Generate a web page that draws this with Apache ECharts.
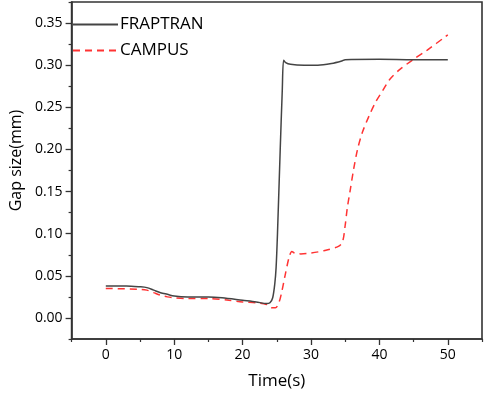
<!DOCTYPE html>
<html><head><meta charset="utf-8">
<script src="https://cdn.jsdelivr.net/npm/echarts@6/dist/echarts.min.js"></script>
<style>html,body{margin:0;padding:0;background:#fff}#c{width:484px;height:395px}</style>
</head><body><div id="c"></div>
<script>
const fraptranTime = [0,3,5,6,7,8,9,10,12,15,17,20,22,23.5,24.0,24.4,24.7,24.9,25.1,25.5,25.8,26.0,26.3,27,29,31,33,34.5,35,40,45,50];
const fraptranGap  = [0.038,0.038,0.037,0.036,0.033,0.030,0.028,0.026,0.025,0.025,0.024,0.021,0.019,0.017,0.018,0.024,0.040,0.060,0.100,0.200,0.270,0.306,0.303,0.301,0.300,0.300,0.302,0.305,0.3065,0.307,0.3065,0.3065];
const campusTime = [0,5,6,7,8,9,10,12,15,18,20,22,23.5,24.2,24.8,25.3,25.7,26.2,26.8,27.2,27.6,28.5,30,32,34,34.6,35.0,35.3,35.7,36.2,36.8,37.5,38.5,39.5,40.5,41.5,43,45,47,50];
const campusGap  = [0.035,0.034,0.033,0.030,0.027,0.025,0.024,0.023,0.023,0.021,0.019,0.018,0.016,0.012,0.012,0.018,0.030,0.050,0.072,0.079,0.077,0.076,0.077,0.080,0.085,0.090,0.110,0.130,0.150,0.175,0.200,0.220,0.240,0.257,0.270,0.283,0.295,0.307,0.318,0.336];
const seriesNames = ['FRAPTRAN','CAMPUS'];
const xTicks = [0,10,20,30,40,50];
const xMinorTicks = [-5,5,15,25,35,45,55];
const yTicks = [0.00,0.05,0.10,0.15,0.20,0.25,0.30,0.35];
const yMinorTicks = [-0.025,0.025,0.075,0.125,0.175,0.225,0.275,0.325,0.375];

const zip = (a,b) => a.map((v,i)=>[v,b[i]]);
const font = '"Open Sans", sans-serif';
const chart = echarts.init(document.getElementById('c'), null, {renderer:'canvas'});
const grid = {left:62, right:2, top:2, bottom:55};
function mkAxis(extra, isMinor) {
  const base = {
    gridIndex:0,
    axisLine:{show:!isMinor, onZero:false, lineStyle:{color:'#333', width:1.6}},
    splitLine:{show:false},
    nameLocation:'middle',
  };
  return Object.assign(base, extra);
}
chart.setOption({
  animation:false,
  backgroundColor:'#fff',
  grid:Object.assign({show:true, borderColor:'#333', borderWidth:1.6}, grid),
  legend:{
    orient:'vertical', left:72, top:16, padding:0, itemWidth:45, itemHeight:14, itemGap:9,
    itemStyle:{opacity:0},
    textStyle:{fontFamily:font, fontSize:17, color:'#000', padding:[0,0,0,-3]},
    data:seriesNames
  },
  xAxis:[
    mkAxis({type:'value', min:-5, max:55, name:'Time(s)', nameGap:34,
      nameTextStyle:{fontFamily:font, fontSize:17, color:'#000'},
      axisLabel:{fontFamily:font, fontSize:14, color:'#000', margin:9, customValues:xTicks, formatter:v=>String(v)},
      axisTick:{show:true, length:6, customValues:xTicks, lineStyle:{color:'#333', width:1.3}}}, false),
    mkAxis({type:'value', min:-5, max:55, position:'bottom',
      axisLabel:{show:false, customValues:xMinorTicks},
      axisTick:{show:true, length:3, customValues:xMinorTicks, lineStyle:{color:'#333', width:1.2}}}, true)
  ],
  yAxis:[
    mkAxis({type:'value', min:-0.025, max:0.375, name:'Gap size(mm)', nameGap:44,
      nameTextStyle:{fontFamily:font, fontSize:16, color:'#000', padding:[0,0,0,20]},
      axisLabel:{fontFamily:font, fontSize:14, color:'#000', margin:9, customValues:yTicks, formatter:v=>v.toFixed(2)},
      axisTick:{show:true, length:6, customValues:yTicks, lineStyle:{color:'#333', width:1.3}}}, false),
    mkAxis({type:'value', min:-0.025, max:0.375, position:'left',
      axisLabel:{show:false, customValues:yMinorTicks},
      axisTick:{show:true, length:3, customValues:yMinorTicks, lineStyle:{color:'#333', width:1.2}}}, true)
  ],
  series:[
    {name:seriesNames[0], type:'line', data:zip(fraptranTime,fraptranGap), symbol:'none', smooth:0.3,
      lineStyle:{color:'#444', width:1.5}, itemStyle:{color:'#444'}, z:3},
    {name:seriesNames[1], type:'line', data:zip(campusTime,campusGap), symbol:'none', smooth:0.3,
      lineStyle:{color:'#ff3333', width:1.5, type:[7,5]}, itemStyle:{color:'#ff3333'}, z:2}
  ]
});
</script></body></html>
